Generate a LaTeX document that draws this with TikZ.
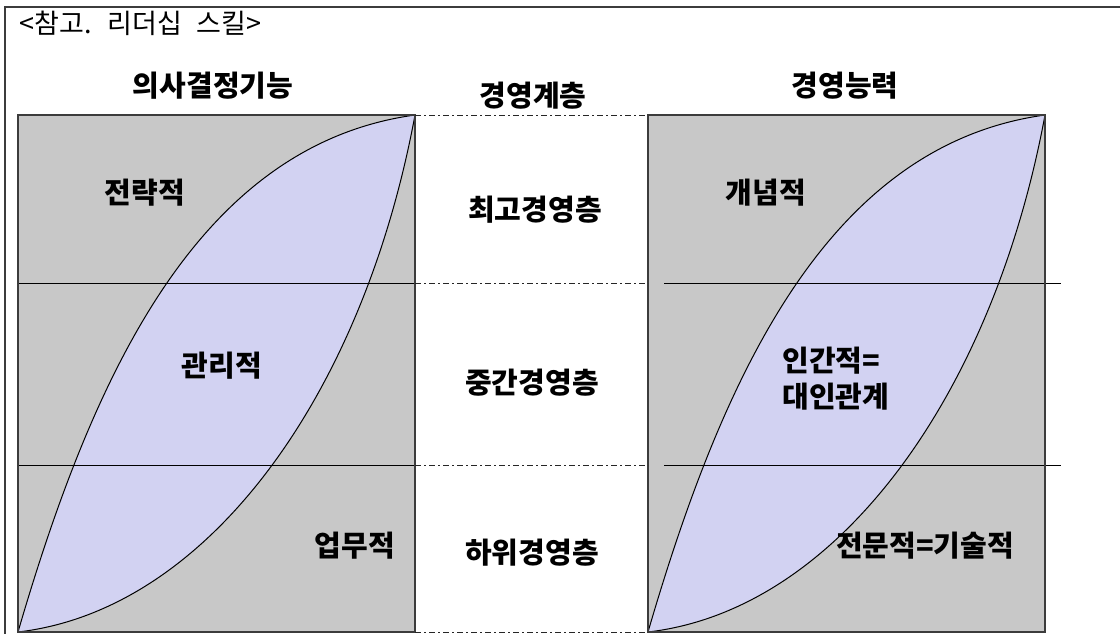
\documentclass[tikz,border=0pt]{standalone}
\usepackage{fontspec}
\setmainfont{Noto Sans CJK KR}
\definecolor{boxgray}{RGB}{200,200,200}
\definecolor{lensblue}{RGB}{210,210,242}
\definecolor{frameline}{RGB}{60,60,60}

\begin{document}
\begin{tikzpicture}[x=1pt, y=-1pt,
    head/.style = {font=\fontsize{29}{32}\selectfont\bfseries},
    lbl/.style = {font=\fontsize{29}{36}\selectfont\bfseries, align=left},
    level/.style = {dash pattern=on 6pt off 3pt on 2pt off 3pt, black!85, line width=1pt},
    curve/.style = {black, line width=1pt}]
  \useasboundingbox (0,0) rectangle (1120,634);
  \fill[white] (0,0) rectangle (1120,634);

  % outer frame
  \draw[frameline, line width=1.2pt] (5,640) -- (5,7) -- (1125,7);

  % the two panels
  \foreach \px/\off in {18/0, 648/16} {
    \begin{scope}[shift={(\px,115)}]
      \fill[boxgray] (0,0) rectangle (397,517);
      \fill[lensblue] (0,517) .. controls (75,260) and (180,30) .. (397,0)
                              .. controls (345,280) and (190,495) .. (0,517);
      \draw[black, line width=1pt] (\off,168) -- ++(397,0);
      \draw[black, line width=1pt] (\off,350) -- ++(397,0);
      \draw[curve] (0,517) .. controls (75,260) and (180,30) .. (397,0);
      \draw[curve] (0,517) .. controls (190,495) and (345,280) .. (397,0);
      \draw[frameline, line width=1.5pt] (0,0) rectangle (397,517);
    \end{scope}
  }

  % levels between the panels
  \foreach \yy in {115,283,465,632}
    \draw[level] (415,\yy) -- (648,\yy);

  \node[anchor=west, font=\fontsize{27}{30}\selectfont] (title) at (16,23)
    {<참고.\hspace{8pt} 리더십\hspace{8pt} 스킬>};

  \node[head] (h1) at (213,86) {의사결정기능};
  \node[head] (h2) at (533,96) {경영계층};
  \node[head] (h3) at (845,86) {경영능력};

  \node[lbl] (s1) at (145,193) {전략적};
  \node[lbl] (s2) at (222,366) {관리적};
  \node[lbl] (s3) at (355,546) {업무적};

  \node[lbl] (m1) at (535,210) {최고경영층};
  \node[lbl] (m2) at (532,383) {중간경영층};
  \node[lbl] (m3) at (532,553) {하위경영층};

  \node[lbl] (c1) at (766,193) {개념적};
  \node[lbl, anchor=west] (c2) at (779,379) {인간적=\\대인관계};
  \node[lbl] (c3) at (925,546) {전문적=기술적};
\end{tikzpicture}
\end{document}
